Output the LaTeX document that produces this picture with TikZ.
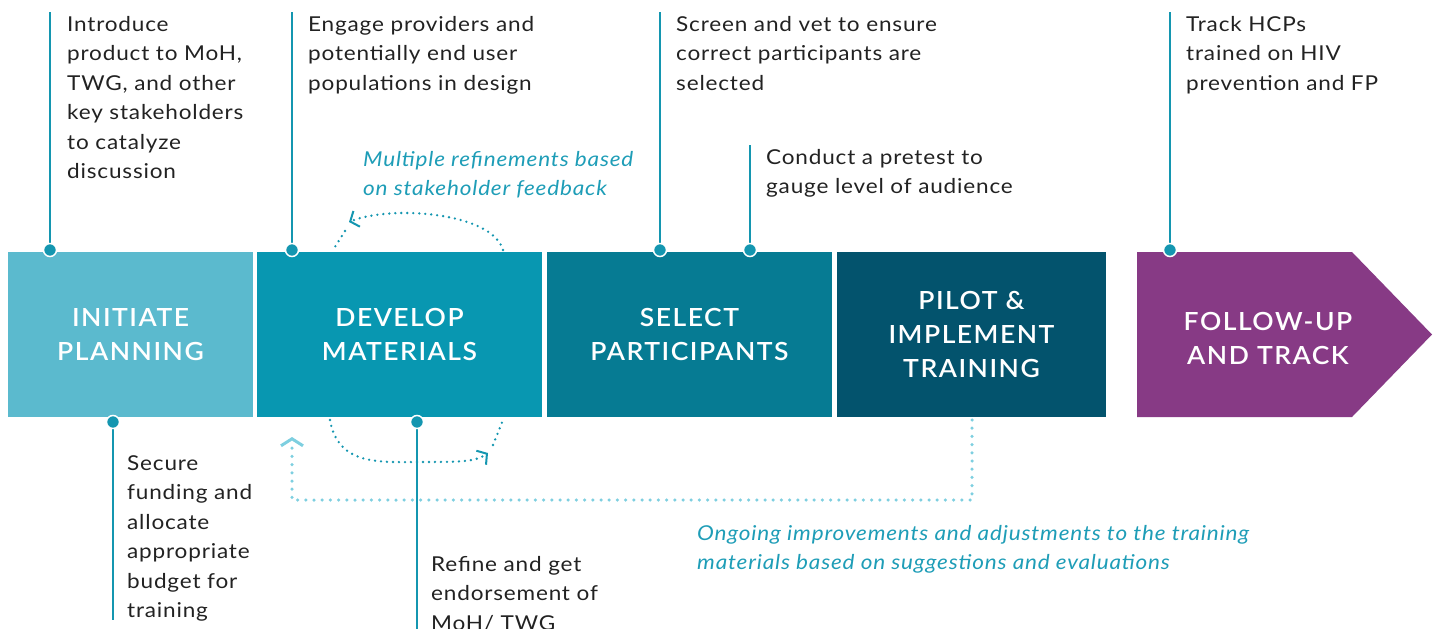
\documentclass[tikz,border=0pt]{standalone}
\usepackage{fontspec}
\setmainfont{Lato}[FakeStretch=1.1, LetterSpace=4]
\newfontfamily\boxfont[LetterSpace=6, FakeStretch=1.06]{Lato Semibold}
\usetikzlibrary{arrows.meta}
\definecolor{cA}{HTML}{5BBACE}
\definecolor{cB}{HTML}{0897B1}
\definecolor{cC}{HTML}{067B93}
\definecolor{cD}{HTML}{03536D}
\definecolor{cE}{HTML}{873A85}
\definecolor{pin}{HTML}{1496B0}
\definecolor{lite}{HTML}{7ECFE0}
\definecolor{ink}{HTML}{222222}
\definecolor{note}{HTML}{1E9DB7}
\begin{document}
\begin{tikzpicture}[x=1pt,y=-1pt,
  stage/.style={inner sep=0pt, minimum height=165pt, text=white, align=center,
    font=\boxfont\fontsize{25}{34}\selectfont},
  desc/.style={anchor=north west, inner sep=0pt, align=left, text=ink,
    font=\fontsize{20.5}{29.5}\selectfont},
  remark/.style={anchor=north west, inner sep=0pt, align=left, text=note,
    font=\itshape\fontsize{20.5}{29.5}\selectfont},
  pinline/.style={draw=pin, line width=2pt},
  pindot/.style={circle, fill=pin, draw=white, line width=1.5pt, minimum size=13pt, inner sep=0pt},
  loopdots/.style={draw=pin, line width=2.6pt, line cap=round, dash pattern=on 0pt off 6pt},
  looptip/.style={-{Straight Barb[length=7pt,width=17pt,line width=2pt]}},
  backdots/.style={draw=lite, line width=3.5pt, line cap=round, dash pattern=on 0pt off 8.2pt},
]
\useasboundingbox (0,0) rectangle (1436,629);

% stages
\node[stage, fill=cA, minimum width=245pt] (b1) at (130.5,334.5) {INITIATE\\PLANNING};
\node[stage, fill=cB, minimum width=285pt] (b2) at (399.5,334.5) {DEVELOP\\MATERIALS};
\node[stage, fill=cC, minimum width=285pt] (b3) at (689.5,334.5) {SELECT\\PARTICIPANTS};
\node[stage, fill=cD, minimum width=269pt] (b4) at (971.5,334.5) {PILOT \&\\IMPLEMENT\\TRAINING};
\fill[cE] (1137,252) -- (1352,252) -- (1432,334.5) -- (1352,417) -- (1137,417) -- cycle;
\node[stage, minimum width=215pt] (b5) at (1268,338) {FOLLOW-UP\\AND TRACK};

% top pins
\coordinate (t1) at (50,12);   \coordinate (d1) at (50,250);
\coordinate (t2) at (292,12);  \coordinate (d2) at (292,250);
\coordinate (t3) at (660,12);  \coordinate (d3) at (660,250);
\coordinate (t4) at (750,145); \coordinate (d4) at (750,250);
\coordinate (t5) at (1170,12); \coordinate (d5) at (1170,250);
% bottom pins
\coordinate (u1) at (113,422); \coordinate (e1) at (113,620);
\coordinate (u2) at (417,422); \coordinate (e2) at (417,629);

\foreach \a/\b in {t1/d1,t2/d2,t3/d3,t4/d4,t5/d5,u1/e1,u2/e2}
  \draw[pinline] (\a) -- (\b);
\foreach \a in {d1,d2,d3,d4,d5,u1,u2}
  \node[pindot] at (\a) {};

% descriptions
\node[desc] (n1) at (67,16) {Introduce\\product to MoH,\\TWG, and other\\key stakeholders\\to catalyze\\discussion};
\node[desc] (n2) at (308,16) {Engage providers and\\potentially end user\\populations in design};
\node[desc] (n3) at (676,16) {Screen and vet to ensure\\correct participants are\\selected};
\node[desc] (n4) at (766,149) {Conduct a pretest to\\gauge level of audience};
\node[desc] (n5) at (1186,16) {Track HCPs\\trained on HIV\\prevention and FP};
\node[desc] (n6) at (127,455) {Secure\\funding and\\allocate\\appropriate\\budget for\\training};
\node[desc] (n7) at (431,556) {Refine and get\\endorsement of\\MoH/ TWG};

% remarks
\node[remark] (r1) at (363,151) {Multiple refinements based\\on stakeholder feedback};
\node[remark] (r2) at (697,525) {Ongoing improvements and adjustments to the training\\materials based on suggestions and evaluations};

% refinement loops
\coordinate (la) at (503,250);
\coordinate (lb) at (349,222);
\coordinate (lc) at (333,250);
\draw[loopdots, looptip]
  (la) .. controls (492,212) and (390,205) .. (lb);
\draw[loopdots] (345,231) -- (lc);
\coordinate (ma) at (330,420);
\coordinate (mb) at (488,453);
\coordinate (mc) at (503,420);
\draw[loopdots, looptip]
  (ma) .. controls (338,466) and (380,462) .. (420,462) .. controls (460,462) and (475,462) .. (mb);
\draw[loopdots] (493,445) -- (mc);

% ongoing improvement loop
\coordinate (ka) at (972,420);
\coordinate (kb) at (972,500);
\coordinate (kc) at (292,500);
\coordinate (kd) at (292,437);
\draw[backdots, -{Straight Barb[length=7pt,width=22pt,line width=3pt]}]
  (ka) -- (kb) -- (kc) -- (kd);
\end{tikzpicture}
\end{document}
